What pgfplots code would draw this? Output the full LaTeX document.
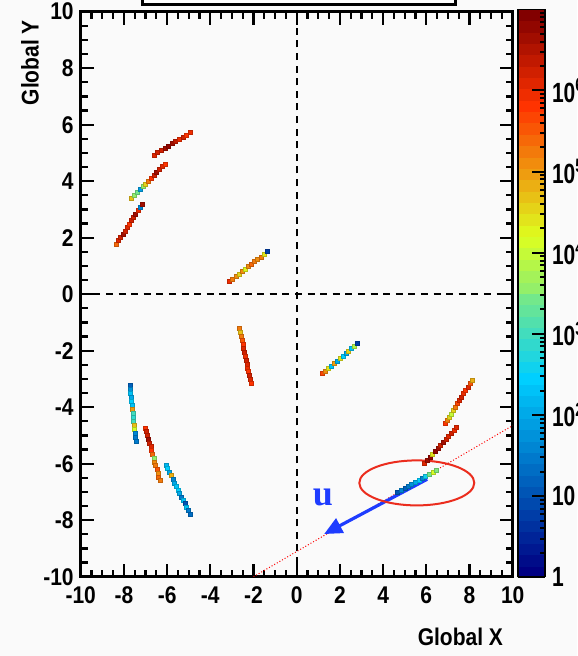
\documentclass[border=0pt]{standalone}
\usepackage{pgfplots}
\usepackage{pgfplotstable}
\pgfplotsset{compat=1.18}
\usepackage{fontspec}
\setmainfont{Liberation Sans}
\newfontfamily\tnr{Liberation Serif}
\usetikzlibrary{arrows.meta}
\definecolor{arrowblue}{RGB}{30,60,255}
\definecolor{ellred}{RGB}{235,45,30}
\definecolor{bg}{RGB}{250,250,250}
\pgfplotsset{
  colormap={rootgrad}{rgb(0cm)=(0,0,0.51); rgb(34cm)=(0,0.81,1); rgb(61cm)=(0.87,1,0.12); rgb(84cm)=(1,0.2,0); rgb(100cm)=(0.51,0,0)},
  colormap={root50}{samples of colormap=(51 of rootgrad)},
}
\pgfplotstableread{
x y c
-6.60 4.93 6.1
-6.43 5.01 6.2
-6.27 5.09 6.3
-6.10 5.16 6.6
-5.93 5.24 6.8
-5.77 5.32 6.7
-5.60 5.40 6.4
-5.43 5.48 6.0
-5.26 5.56 6.2
-5.10 5.63 5.9
-4.93 5.71 6.0
-7.64 3.39 4.8
-7.51 3.49 3.6
-7.38 3.59 3.4
-7.25 3.70 1.8
-7.12 3.80 3.6
-6.99 3.90 4.6
-6.87 4.00 5.3
-6.74 4.10 5.8
-6.61 4.20 6.2
-6.48 4.30 6.7
-6.35 4.41 6.3
-6.22 4.51 6.1
-6.09 4.61 5.9
-8.34 1.77 5.4
-8.24 1.89 6.1
-8.14 2.01 6.3
-8.04 2.12 6.7
-7.94 2.24 6.2
-7.84 2.36 6.1
-7.75 2.48 5.8
-7.65 2.60 6.2
-7.55 2.72 6.3
-7.45 2.83 6.6
-7.35 2.95 6.0
-7.25 3.07 1.6
-7.15 3.19 6.7
-3.10 0.44 6.0
-2.96 0.53 5.3
-2.81 0.62 5.2
-2.67 0.71 4.6
-2.52 0.79 5.2
-2.38 0.88 4.3
-2.23 0.97 5.1
-2.09 1.06 5.4
-1.94 1.15 5.3
-1.80 1.24 5.2
-1.65 1.32 5.3
-1.51 1.41 4.5
-1.36 1.50 0.8
-2.64 -1.22 5.3
-2.60 -1.36 4.7
-2.56 -1.50 5.3
-2.53 -1.64 5.5
-2.49 -1.77 5.8
-2.45 -1.91 6.1
-2.41 -2.05 6.2
-2.37 -2.19 6.0
-2.34 -2.33 6.3
-2.30 -2.47 6.1
-2.26 -2.61 6.0
-2.22 -2.75 5.9
-2.19 -2.88 6.2
-2.15 -3.02 6.1
-2.11 -3.16 5.8
-7.72 -3.23 1.2
-7.70 -3.37 1.7
-7.68 -3.51 2.2
-7.66 -3.65 2.0
-7.64 -3.79 2.4
-7.62 -3.93 2.2
-7.60 -4.07 5.0
-7.58 -4.21 3.0
-7.56 -4.35 2.8
-7.54 -4.49 2.9
-7.52 -4.63 4.8
-7.50 -4.77 4.2
-7.48 -4.92 1.6
-7.46 -5.06 1.5
-7.44 -5.20 1.5
-6.99 -4.74 5.8
-6.94 -4.87 6.2
-6.90 -5.01 6.3
-6.85 -5.14 6.6
-6.80 -5.27 6.2
-6.75 -5.40 6.1
-6.71 -5.54 5.8
-6.66 -5.67 5.4
-6.61 -5.80 3.7
-6.57 -5.94 5.1
-6.52 -6.07 5.3
-6.47 -6.20 5.5
-6.42 -6.33 5.2
-6.38 -6.47 5.4
-6.33 -6.60 5.3
-6.05 -6.06 2.1
-5.97 -6.18 2.4
-5.89 -6.31 2.0
-5.81 -6.43 4.9
-5.73 -6.56 1.6
-5.65 -6.68 2.0
-5.57 -6.80 2.3
-5.49 -6.93 2.4
-5.41 -7.05 2.0
-5.33 -7.18 1.5
-5.25 -7.30 2.3
-5.17 -7.42 1.0
-5.09 -7.55 2.2
-5.01 -7.67 1.5
-4.93 -7.80 1.3
1.19 -2.81 5.7
1.33 -2.72 5.2
1.46 -2.63 4.5
1.60 -2.55 2.3
1.73 -2.46 5.0
1.87 -2.37 2.0
2.00 -2.28 4.4
2.14 -2.19 2.4
2.28 -2.11 2.0
2.41 -2.02 4.6
2.55 -1.93 2.3
2.68 -1.84 3.9
2.82 -1.75 0.7
6.88 -4.59 5.9
6.98 -4.47 5.3
7.07 -4.35 4.6
7.17 -4.24 4.1
7.26 -4.12 4.6
7.36 -4.00 5.3
7.45 -3.88 5.7
7.55 -3.76 6.1
7.64 -3.64 6.2
7.74 -3.52 6.0
7.83 -3.40 5.8
7.93 -3.29 6.1
8.02 -3.17 5.6
8.12 -3.05 4.9
5.92 -6.00 6.1
6.04 -5.89 6.7
6.17 -5.79 6.8
6.29 -5.68 4.5
6.41 -5.57 6.8
6.54 -5.47 6.6
6.66 -5.36 6.2
6.78 -5.25 6.7
6.91 -5.15 6.3
7.03 -5.04 6.1
7.15 -4.93 6.3
7.28 -4.83 6.0
7.40 -4.72 6.1
}\tracks
\pgfplotstableread{
x y c
4.68 -7.01 1.0
4.84 -6.94 1.6
5.01 -6.87 1.1
5.17 -6.80 1.5
5.33 -6.73 1.7
5.49 -6.66 2.0
5.66 -6.59 2.4
5.82 -6.52 1.6
5.98 -6.45 2.6
6.14 -6.38 3.4
6.31 -6.31 4.2
6.47 -6.24 3.5
}\utrack
\begin{document}
\begin{tikzpicture}
\path[use as bounding box, fill=bg] (0,0) rectangle (288.5pt,328pt);
\draw[line width=1.5pt, fill=white] (71pt,325.5pt) rectangle (227.5pt,345pt);
\begin{axis}[
  at={(40.35pt,39.65pt)}, anchor=south west,
  width=216pt, height=282.5pt, scale only axis,
  xmin=-10, xmax=10, ymin=-10, ymax=10,
  xtick={-10,-8,...,10}, ytick={-10,-8,...,10},
  minor tick num=3,
  tick align=inside, tick pos=both,
  major tick length=6.5pt, minor tick length=3.5pt,
  every tick/.style={black, line width=1.1pt},
  axis line style={line width=1.6pt},
  /pgf/number format/assume math mode=true,
  ticklabel style={font=\bfseries\fontsize{10.5}{12}\selectfont, yscale=1.15},
  xticklabel style={yshift=-1pt},
  colormap name=root50, colormap access=piecewise constant,
  point meta min=0, point meta max=7,
  colorbar sampled,
  colorbar style={
    at={(parent axis.south east)}, anchor=south west, xshift=-5.9pt, yshift=-0.3pt,
    width=13.5pt, height=284pt, scale only axis,
    samples=51,
    ymin=0, ymax=7,
    ytick={0,...,6},
    yticklabels={1,10,10\textsuperscript{2},10\textsuperscript{3},10\textsuperscript{4},10\textsuperscript{5},10\textsuperscript{6}},
    minor ytick={0.301,0.477,0.602,0.699,0.778,0.845,0.903,0.954,
      1.301,1.477,1.602,1.699,1.778,1.845,1.903,1.954,
      2.301,2.477,2.602,2.699,2.778,2.845,2.903,2.954,
      3.301,3.477,3.602,3.699,3.778,3.845,3.903,3.954,
      4.301,4.477,4.602,4.699,4.778,4.845,4.903,4.954,
      5.301,5.477,5.602,5.699,5.778,5.845,5.903,5.954,
      6.301,6.477,6.602,6.699,6.778,6.845,6.903,6.954},
    ytick pos=right, yticklabel pos=right, tick align=inside,
    major tick length=6.5pt, minor tick length=2.5pt,
    every tick/.style={black, line width=1pt},
    axis line style={line width=0.8pt},
    yticklabel style={font=\bfseries\fontsize{10.5}{12}\selectfont, yscale=1.15},
  },
]
\addplot[black, line width=0.8pt, dash pattern=on 3.5pt off 2.8pt] coordinates {(0,-10) (0,10)};
\addplot[black, line width=0.8pt, dash pattern=on 3.5pt off 2.8pt] coordinates {(-10,0) (10,0)};
\addplot[scatter, only marks, mark=square*, mark size=1pt, point meta=explicit] table[x=x, y=y, meta=c] {\tracks};
\addplot[red, densely dotted, line width=0.5pt] coordinates {(-2,-10) (10,-4.65)};
\addplot[arrowblue, line width=1.6pt, -{Triangle[length=9pt,width=8pt]}] coordinates {(6.04,-6.55) (1.27,-8.49)};
\addplot[scatter, only marks, mark=square*, mark size=1pt, point meta=explicit] table[x=x, y=y, meta=c] {\utrack};
\draw[ellred, line width=1pt] (axis cs:5.56,-6.68) ellipse [x radius=28.75pt, y radius=11.25pt];
\node[text=arrowblue, font=\tnr\bfseries\fontsize{18}{20}\selectfont] at (axis cs:1.21,-7.2) {u};
\end{axis}
\node[rotate=90, anchor=east, font=\bfseries\fontsize{10.5}{12}\selectfont, yscale=1.15] at (15pt,321.5pt) {Global Y};
\node[anchor=base east, font=\bfseries\fontsize{10.5}{12}\selectfont, yscale=1.15] at (255pt,5pt) {Global X};
\end{tikzpicture}
\end{document}
